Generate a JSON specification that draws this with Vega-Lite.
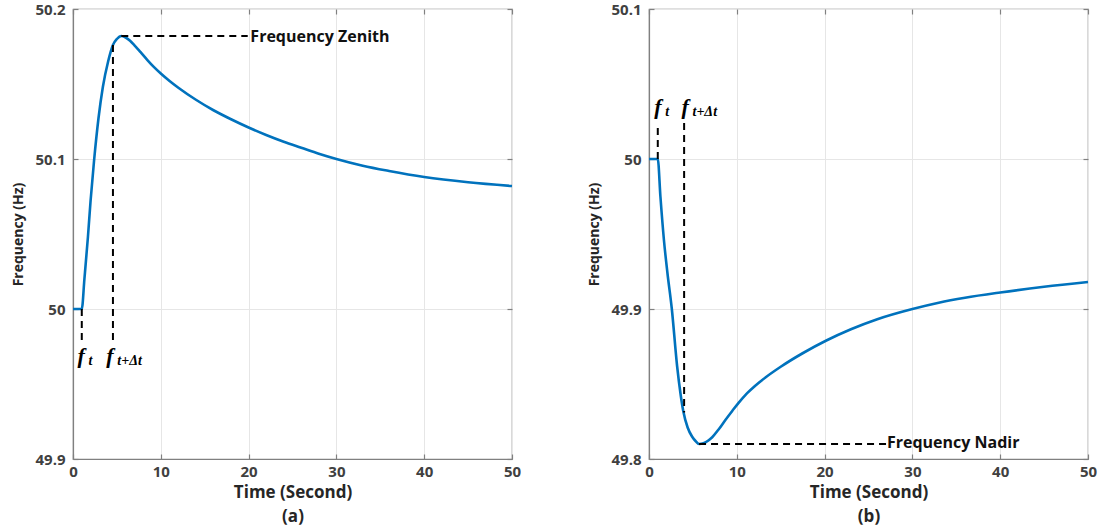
{
  "$schema": "https://vega.github.io/schema/vega-lite/v6.json",
  "background": "white",
  "padding": {"left": 11, "top": 1, "right": 5, "bottom": 0},
  "spacing": 65,
  "config": {
    "view": {"stroke": "#808080", "strokeWidth": 1.2},
    "font": "Open Sans",
    "axis": {
      "labelFont": "Open Sans",
      "labelFontWeight": "bold",
      "labelFontSize": 15,
      "labelColor": "#404040",
      "titleFont": "Open Sans",
      "titleFontWeight": "bold",
      "titleFontSize": 14,
      "titleColor": "#262626",
      "gridColor": "#e6e6e6",
      "gridWidth": 1,
      "domainColor": "#808080",
      "domainWidth": 1.2,
      "tickColor": "#808080",
      "tickSize": -5,
      "tickWidth": 1.2,
      "labelFlush": false
    },
    "axisX": {"labelPadding": 10, "titleFontSize": 17, "titlePadding": 5, "titleLineHeight": 24},
    "axisY": {"labelPadding": 13, "titlePadding": 9}
  },
  "datasets": {
    "curveA": [
      {"t": 0, "f": 50.0}, {"t": 1.0, "f": 50.0}, {"t": 1.3, "f": 50.02}, {"t": 1.7, "f": 50.048},
      {"t": 2.0, "f": 50.072}, {"t": 2.4, "f": 50.099}, {"t": 2.9, "f": 50.127}, {"t": 3.4, "f": 50.148},
      {"t": 4.0, "f": 50.165}, {"t": 4.55, "f": 50.176}, {"t": 5.0, "f": 50.18}, {"t": 5.5, "f": 50.182},
      {"t": 6.0, "f": 50.181}, {"t": 6.5, "f": 50.1788}, {"t": 7.0, "f": 50.1758}, {"t": 7.7, "f": 50.1712},
      {"t": 8.5, "f": 50.1658}, {"t": 9.2, "f": 50.1614}, {"t": 10.0, "f": 50.157}, {"t": 11, "f": 50.152},
      {"t": 12, "f": 50.1475}, {"t": 14, "f": 50.1395}, {"t": 16, "f": 50.1325}, {"t": 18, "f": 50.1265},
      {"t": 20, "f": 50.121}, {"t": 22, "f": 50.116}, {"t": 24, "f": 50.1115}, {"t": 26, "f": 50.1075},
      {"t": 28, "f": 50.1035}, {"t": 30, "f": 50.1}, {"t": 33, "f": 50.0955}, {"t": 36, "f": 50.092},
      {"t": 40, "f": 50.088}, {"t": 45, "f": 50.0845}, {"t": 50, "f": 50.082}
    ],
    "curveB": [
      {"t": 0, "f": 50.0}, {"t": 1.0, "f": 50.0}, {"t": 1.3, "f": 49.975}, {"t": 1.7, "f": 49.946},
      {"t": 2.1, "f": 49.924}, {"t": 2.6, "f": 49.9}, {"t": 3.2, "f": 49.862}, {"t": 3.6, "f": 49.843},
      {"t": 3.9, "f": 49.832}, {"t": 4.4, "f": 49.821}, {"t": 4.9, "f": 49.815}, {"t": 5.3, "f": 49.812},
      {"t": 5.7, "f": 49.81}, {"t": 6.2, "f": 49.8105}, {"t": 6.8, "f": 49.8125}, {"t": 7.2, "f": 49.8145},
      {"t": 7.9, "f": 49.8195}, {"t": 8.7, "f": 49.826}, {"t": 9.5, "f": 49.8322}, {"t": 10.25, "f": 49.8378},
      {"t": 11, "f": 49.8428}, {"t": 12, "f": 49.8483}, {"t": 13.3, "f": 49.8545}, {"t": 15, "f": 49.8615},
      {"t": 17.5, "f": 49.8705}, {"t": 20.2, "f": 49.879}, {"t": 23, "f": 49.8865}, {"t": 26, "f": 49.8932},
      {"t": 30, "f": 49.9}, {"t": 33, "f": 49.9042}, {"t": 36, "f": 49.9075}, {"t": 40, "f": 49.911},
      {"t": 45, "f": 49.9148}, {"t": 50, "f": 49.918}
    ],
    "rulesA": [
      {"t": 1.0, "t2": 1.0, "f": 50.0, "f2": 49.977},
      {"t": 4.55, "t2": 4.55, "f": 50.176, "f2": 49.977},
      {"t": 5.5, "t2": 19.9, "f": 50.182, "f2": 50.182}
    ],
    "rulesB": [
      {"t": 1.0, "t2": 1.0, "f": 50.0, "f2": 50.024},
      {"t": 4.0, "t2": 4.0, "f": 50.024, "f2": 49.831},
      {"t": 5.7, "t2": 27.0, "f": 49.81, "f2": 49.81}
    ],
    "noteA": [{"t": 20.2, "f": 50.182, "label": "Frequency Zenith"}],
    "noteB": [{"t": 27.1, "f": 49.81, "label": "Frequency Nadir"}],
    "symA": [
      {"t": 0.5, "f": 49.969, "main": "f", "sub": "t"},
      {"t": 3.8, "f": 49.969, "main": "f", "sub": "t+Δt"}
    ],
    "symB": [
      {"t": 0.6, "f": 50.035, "main": "f", "sub": "t"},
      {"t": 3.7, "f": 50.035, "main": "f", "sub": "t+Δt"}
    ]
  },
  "hconcat": [
    {
      "width": 439,
      "height": 450,
      "resolve": {"axis": {"x": "independent", "y": "independent"}},
      "layer": [
        {
          "data": {"name": "curveA"},
          "mark": {"type": "line", "color": "#0072BD", "strokeWidth": 2.6, "interpolate": "monotone"},
          "encoding": {
            "x": {"field": "t", "type": "quantitative", "scale": {"domain": [0, 50], "nice": false},
                  "axis": {"values": [0, 10, 20, 30, 40, 50], "title": ["Time (Second)", "(a)"]}},
            "y": {"field": "f", "type": "quantitative", "scale": {"domain": [49.9, 50.2], "nice": false, "zero": false},
                  "axis": {"values": [49.9, 50.0, 50.1, 50.2], "format": "~g", "title": "Frequency (Hz)"}}
          }
        },
        {
          "data": {"name": "rulesA"},
          "mark": {"type": "rule", "color": "black", "strokeWidth": 2, "strokeDash": [7, 5]},
          "encoding": {
            "x": {"field": "t", "type": "quantitative", "axis": {"orient": "top", "labels": false, "title": null, "grid": false, "domain": false, "values": [0, 10, 20, 30, 40, 50]}},
            "x2": {"field": "t2"},
            "y": {"field": "f", "type": "quantitative", "axis": {"orient": "right", "labels": false, "title": null, "grid": false, "domain": false, "values": [49.9, 50.0, 50.1, 50.2]}},
            "y2": {"field": "f2"}
          }
        },
        {
          "data": {"name": "noteA"},
          "mark": {"type": "text", "align": "left", "baseline": "middle", "font": "Open Sans", "fontWeight": "bold", "fontSize": 16, "color": "#111111", "dy": 1},
          "encoding": {
            "x": {"field": "t", "type": "quantitative", "axis": null},
            "y": {"field": "f", "type": "quantitative", "axis": null},
            "text": {"field": "label"}
          }
        },
        {
          "data": {"name": "symA"},
          "mark": {"type": "text", "align": "left", "baseline": "middle", "font": "Liberation Serif", "fontStyle": "italic", "fontWeight": "bold", "fontSize": 22, "color": "black"},
          "encoding": {
            "x": {"field": "t", "type": "quantitative", "axis": null},
            "y": {"field": "f", "type": "quantitative", "axis": null},
            "text": {"field": "main"}
          }
        },
        {
          "data": {"name": "symA"},
          "mark": {"type": "text", "align": "left", "baseline": "middle", "font": "Liberation Serif", "fontStyle": "italic", "fontWeight": "bold", "fontSize": 14, "color": "black", "dx": 11, "dy": 5},
          "encoding": {
            "x": {"field": "t", "type": "quantitative", "axis": null},
            "y": {"field": "f", "type": "quantitative", "axis": null},
            "text": {"field": "sub"}
          }
        }
      ]
    },
    {
      "width": 439,
      "height": 450,
      "resolve": {"axis": {"x": "independent", "y": "independent"}},
      "layer": [
        {
          "data": {"name": "curveB"},
          "mark": {"type": "line", "color": "#0072BD", "strokeWidth": 2.6, "interpolate": "monotone"},
          "encoding": {
            "x": {"field": "t", "type": "quantitative", "scale": {"domain": [0, 50], "nice": false},
                  "axis": {"values": [0, 10, 20, 30, 40, 50], "title": ["Time (Second)", "(b)"]}},
            "y": {"field": "f", "type": "quantitative", "scale": {"domain": [49.8, 50.1], "nice": false, "zero": false},
                  "axis": {"values": [49.8, 49.9, 50.0, 50.1], "format": "~g", "title": "Frequency (Hz)"}}
          }
        },
        {
          "data": {"name": "rulesB"},
          "mark": {"type": "rule", "color": "black", "strokeWidth": 2, "strokeDash": [7, 5]},
          "encoding": {
            "x": {"field": "t", "type": "quantitative", "axis": {"orient": "top", "labels": false, "title": null, "grid": false, "domain": false, "values": [0, 10, 20, 30, 40, 50]}},
            "x2": {"field": "t2"},
            "y": {"field": "f", "type": "quantitative", "axis": {"orient": "right", "labels": false, "title": null, "grid": false, "domain": false, "values": [49.8, 49.9, 50.0, 50.1]}},
            "y2": {"field": "f2"}
          }
        },
        {
          "data": {"name": "noteB"},
          "mark": {"type": "text", "align": "left", "baseline": "middle", "font": "Open Sans", "fontWeight": "bold", "fontSize": 16, "color": "#111111", "dy": -1},
          "encoding": {
            "x": {"field": "t", "type": "quantitative", "axis": null},
            "y": {"field": "f", "type": "quantitative", "axis": null},
            "text": {"field": "label"}
          }
        },
        {
          "data": {"name": "symB"},
          "mark": {"type": "text", "align": "left", "baseline": "middle", "font": "Liberation Serif", "fontStyle": "italic", "fontWeight": "bold", "fontSize": 22, "color": "black"},
          "encoding": {
            "x": {"field": "t", "type": "quantitative", "axis": null},
            "y": {"field": "f", "type": "quantitative", "axis": null},
            "text": {"field": "main"}
          }
        },
        {
          "data": {"name": "symB"},
          "mark": {"type": "text", "align": "left", "baseline": "middle", "font": "Liberation Serif", "fontStyle": "italic", "fontWeight": "bold", "fontSize": 14, "color": "black", "dx": 11, "dy": 5},
          "encoding": {
            "x": {"field": "t", "type": "quantitative", "axis": null},
            "y": {"field": "f", "type": "quantitative", "axis": null},
            "text": {"field": "sub"}
          }
        }
      ]
    }
  ]
}
